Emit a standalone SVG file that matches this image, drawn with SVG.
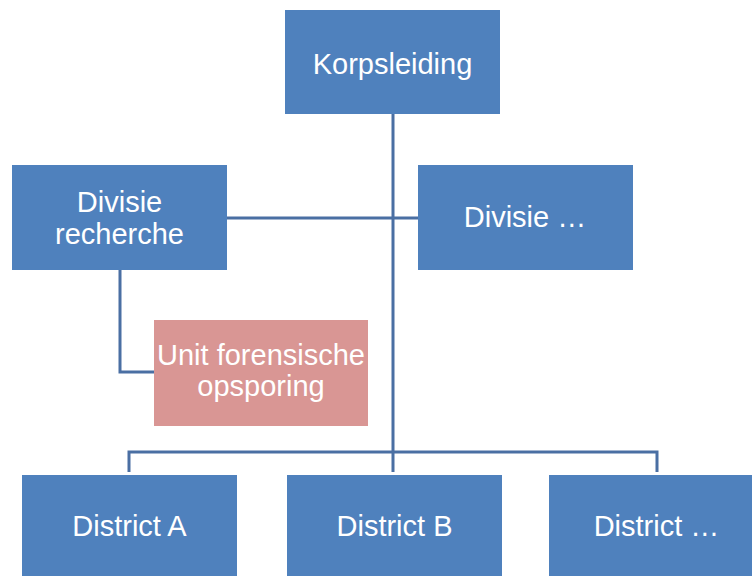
<svg xmlns="http://www.w3.org/2000/svg" width="752" height="576" viewBox="0 0 752 576">
<style>
.box{fill:#4F81BD}
.pink{fill:#D99694}
.lbl{font-family:"Liberation Sans",Arial,sans-serif;font-size:29px;fill:#FFFFFF;text-anchor:middle}
.ln{stroke:#4A6FA3;stroke-width:3;fill:none}
</style>
<rect width="752" height="576" fill="#FFFFFF"/>
<g id="connectors">
<path class="ln" d="M393 114 V472"/>
<path class="ln" d="M227 218 H418"/>
<path class="ln" d="M120 270 V372 H154"/>
<path class="ln" d="M129 472 V452 H657 V472"/>
</g>
<g id="korpsleiding"><rect class="box" x="285" y="10" width="215" height="104"/><text class="lbl" x="392.5" y="74">Korpsleiding</text></g>
<g id="divisie-recherche"><rect class="box" x="12" y="165" width="215" height="105"/><text class="lbl" x="119.5" y="212">Divisie</text><text class="lbl" x="119.5" y="244">recherche</text></g>
<g id="divisie-etc"><rect class="box" x="418" y="165" width="215" height="105"/><text class="lbl" x="525" y="227">Divisie …</text></g>
<g id="unit-forensische"><rect class="pink" x="154" y="320" width="214" height="106"/><text class="lbl" x="261" y="365">Unit forensische</text><text class="lbl" x="261" y="396">opsporing</text></g>
<g id="district-a"><rect class="box" x="22" y="475" width="215" height="105"/><text class="lbl" x="129.5" y="536">District A</text></g>
<g id="district-b"><rect class="box" x="287" y="475" width="215" height="105"/><text class="lbl" x="394.5" y="536">District B</text></g>
<g id="district-etc"><rect class="box" x="549" y="475" width="215" height="105"/><text class="lbl" x="656.5" y="536">District …</text></g>
</svg>
